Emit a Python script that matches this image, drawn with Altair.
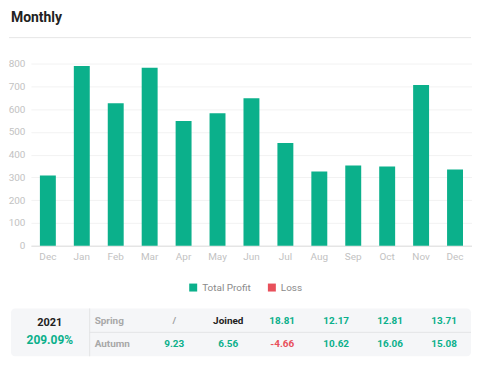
import json
import altair as alt
import pandas as pd

# ---- data ----
months = ["Dec", "Jan", "Feb", "Mar", "Apr", "May", "Jun", "Jul", "Aug", "Sep", "Oct", "Nov", "Dec"]
profit = [308, 789, 625, 781, 548, 582, 648, 451, 326, 352, 348, 706, 335]
series_names = ["Total Profit", "Loss"]
y_ticks = [0, 100, 200, 300, 400, 500, 600, 700, 800]

year = "2021"
year_return = "209.09%"
seasons = ["Spring", "Autumn"]
spring_vals = ["/", "Joined", "18.81", "12.17", "12.81", "13.71"]
autumn_vals = ["9.23", "6.56", "-4.66", "10.62", "16.06", "15.08"]

# ---- styles ----
GREEN = "#0bb08b"
RED = "#e8505b"
FONT = "Roboto"
AXIS_LBL = "#c2c2c2"

W, H = 443, 183

bars_df = pd.DataFrame({
    "idx": list(range(len(months))),
    "profit": profit,
    "series": [series_names[0]] * len(months),
})
label_expr = json.dumps(months) + "[datum.value]"

bars = alt.Chart(bars_df).mark_bar(size=16).encode(
    x=alt.X("idx:O",
            scale=alt.Scale(paddingInner=0, paddingOuter=0),
            axis=alt.Axis(title=None, labelExpr=label_expr, labelAngle=0, ticks=False,
                          grid=False, domainColor="#dedede", labelColor=AXIS_LBL,
                          labelFontSize=10, labelPadding=6, labelFont=FONT)),
    y=alt.Y("profit:Q",
            scale=alt.Scale(domain=[0, 800], nice=False),
            axis=alt.Axis(title=None, values=y_ticks, domain=False, ticks=False,
                          labelColor=AXIS_LBL, labelFontSize=10, labelPadding=6,
                          gridColor="#f2f2f2", labelFont=FONT)),
    color=alt.Color("series:N",
                    scale=alt.Scale(domain=series_names, range=[GREEN, RED]),
                    legend=alt.Legend(title=None, orient="none", legendX=158, legendY=220,
                                      direction="horizontal", symbolType="square",
                                      symbolSize=64, symbolStrokeWidth=0,
                                      labelFontSize=10, labelColor="#8a8a8a", labelFont=FONT,
                                      columnPadding=16, labelOffset=4)),
)

one = pd.DataFrame({"t": ["Monthly"]})
sep = alt.Chart(one).mark_rule(color="#e6e6e6", strokeWidth=1).encode(
    x=alt.value(-22), x2=alt.value(442), y=alt.value(-26))
title = alt.Chart(one).mark_text(align="left", baseline="alphabetic", fontSize=14,
                                 fontWeight="bold", color="#222222", font=FONT).encode(
    x=alt.value(-20), y=alt.value(-42), text="t:N")

top = alt.layer(sep, title, bars).properties(width=W, height=H)

# ---- table ----
def kind_color(v):
    if v == "/":
        return "#a0a0a0"
    if v == "Joined":
        return "#222222"
    if v.startswith("-"):
        return RED
    return GREEN

cells = []
for r, vals in enumerate([spring_vals, autumn_vals]):
    for c, v in enumerate(vals):
        cells.append({"row": r, "col": c, "text": v, "clr": kind_color(v)})
cells_df = pd.DataFrame(cells)
season_df = pd.DataFrame({"row": [0, 1], "text": seasons})
year_df = pd.DataFrame({"year": [year], "ret": [year_return]})

row_scale = alt.Scale(type="point", domain=[0, 1], range=[13, 36], padding=0)
col_scale = alt.Scale(type="point", domain=list(range(6)), range=[144, 415], padding=0)

bg = alt.Chart(year_df).mark_rect(color="#f5f6f8", cornerRadius=4).encode(
    x=alt.value(-20), x2=alt.value(442), y=alt.value(0), y2=alt.value(48))
vline = alt.Chart(year_df).mark_rule(color="#e3e4e6").encode(
    x=alt.value(59), y=alt.value(0), y2=alt.value(48))
hline = alt.Chart(year_df).mark_rule(color="#e3e4e6").encode(
    x=alt.value(59), x2=alt.value(442), y=alt.value(24))
year_txt = alt.Chart(year_df).mark_text(fontSize=11, fontWeight="bold", color="#222222",
                                        font=FONT).encode(
    x=alt.value(19), y=alt.value(15), text="year:N")
ret_txt = alt.Chart(year_df).mark_text(fontSize=12, fontWeight="bold", color=GREEN,
                                       font=FONT).encode(
    x=alt.value(19), y=alt.value(32), text="ret:N")
season_txt = alt.Chart(season_df).mark_text(align="left", fontSize=10, fontWeight="bold",
                                            color="#a8a8a8", font=FONT).encode(
    x=alt.value(64), y=alt.Y("row:O", scale=row_scale, axis=None), text="text:N")
cell_txt = alt.Chart(cells_df).mark_text(fontSize=10, fontWeight="bold", font=FONT).encode(
    x=alt.X("col:O", scale=col_scale, axis=None),
    y=alt.Y("row:O", scale=row_scale, axis=None),
    text="text:N",
    color=alt.Color("clr:N", scale=None),
)

table = alt.layer(bg, vline, hline, year_txt, ret_txt, season_txt, cell_txt).properties(
    width=W, height=48)

chart = (
    alt.vconcat(top, table, spacing=46)
    .properties(padding={"top": 2, "left": 0, "right": 0, "bottom": 0})
    .configure(font=FONT)
    .configure_view(stroke="transparent", strokeWidth=0)
)

chart.save("out.html", embed_options={"renderer": "svg", "actions": False})
